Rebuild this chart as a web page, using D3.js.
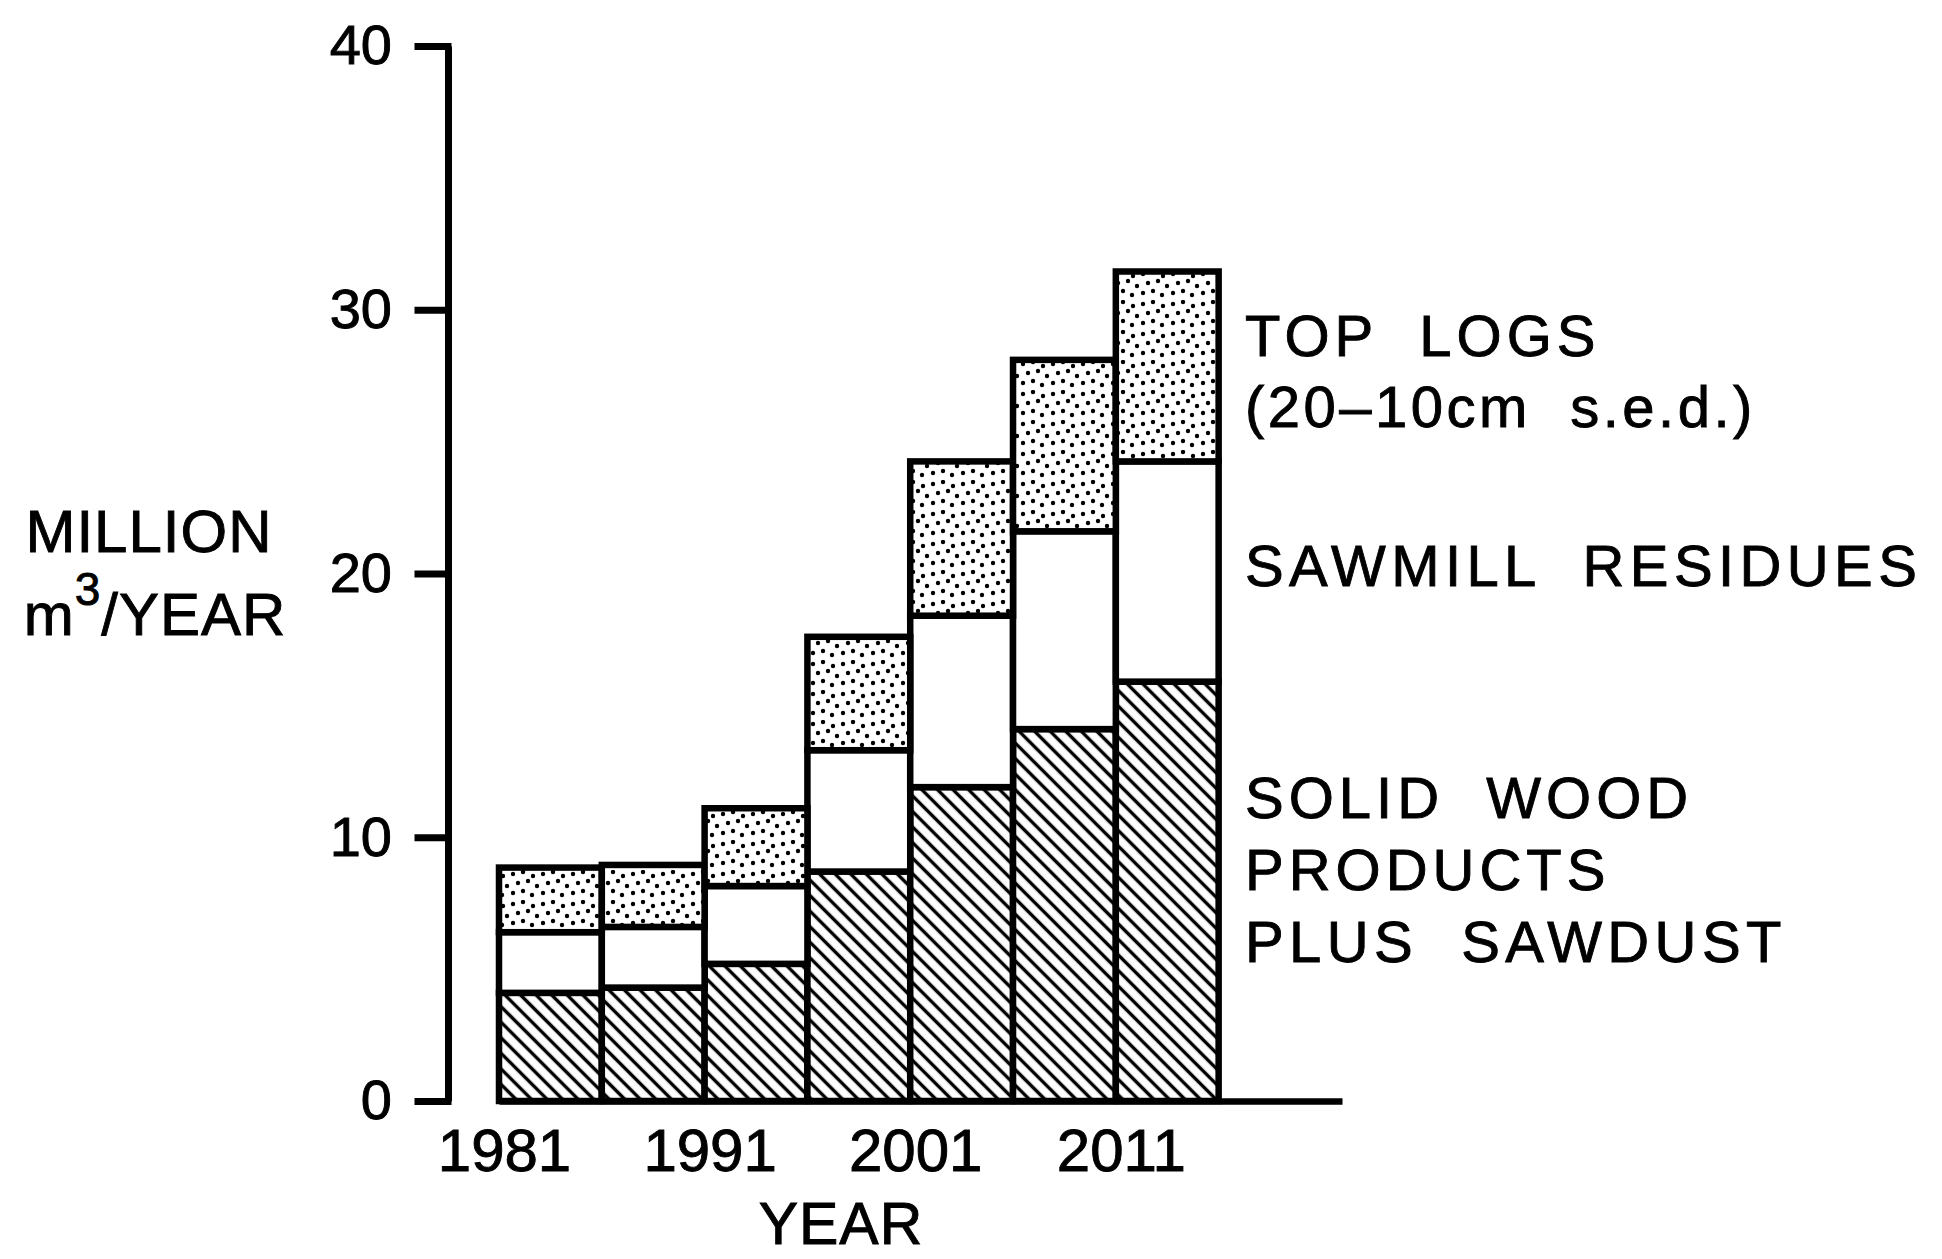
<!DOCTYPE html>
<html>
<head>
<meta charset="utf-8">
<script src="https://cdn.jsdelivr.net/npm/d3@7"></script>
<style>
  body { margin: 0; background: #fff; }
  svg { display: block; font-family: "Liberation Sans", Arial, sans-serif; }
  text { stroke: #000; stroke-width: 0.9px; fill: #000; }
</style>
</head>
<body>
<div id="chart"></div>
<script>
// five-year periods, start year of each bar
const periods = [1981, 1986, 1991, 1996, 2001, 2006, 2011];
// million m3 / year
const solidWood = [4.1, 4.3, 5.2, 8.7, 11.9, 14.1, 15.9];
const sawmillResidues = [2.3, 2.3, 2.95, 4.6, 6.5, 7.5, 8.35];
const topLogs = [2.45, 2.35, 2.95, 4.3, 5.85, 6.5, 7.2];
const yTicks = [0, 10, 20, 30, 40];
const yearTicks = [1981, 1991, 2001, 2011];
const seriesKeys = ["solid", "residues", "toplogs"];

let svgWidth = 1942;
let svgHeight = 1259;

let svg = d3.select("#chart")
  .append("svg")
  .attr("width", svgWidth)
  .attr("height", svgHeight);

svg.append("rect").attr("width", svgWidth).attr("height", svgHeight).attr("fill", "#fff");

// patterns
let defs = svg.append("defs");

let hatch = defs.append("pattern")
  .attr("id", "hatch")
  .attr("patternUnits", "userSpaceOnUse")
  .attr("width", 11)
  .attr("height", 11)
  .attr("patternTransform", "rotate(45)");
hatch.append("rect").attr("width", 11).attr("height", 11).attr("fill", "#fff");
hatch.append("line")
  .attr("x1", 0).attr("y1", 5.5).attr("x2", 11).attr("y2", 5.5)
  .attr("stroke", "#000").attr("stroke-width", 3.4);

let dots = defs.append("pattern")
  .attr("id", "dots")
  .attr("patternUnits", "userSpaceOnUse")
  .attr("width", 30)
  .attr("height", 30);
dots.append("rect").attr("width", 30).attr("height", 30).attr("fill", "#fff");
[[3, 4], [13, 2], [23, 6], [8, 13], [18, 11], [27, 16], [3, 23], [13, 21], [22, 25]]
  .forEach(p => dots.append("circle").attr("cx", p[0]).attr("cy", p[1]).attr("r", 2.2).attr("fill", "#000"));

let fills = { solid: "url(#hatch)", residues: "#fff", toplogs: "url(#dots)" };

// scales
let xScale = d3.scaleLinear().domain([1981, 2022]).range([499, 1342]);
let yScale = d3.scaleLinear().domain([0, 40]).range([1101, 46]);

// stacked data
let tableData = periods.map((p, i) => ({
  year: p,
  solid: solidWood[i],
  residues: sawmillResidues[i],
  toplogs: topLogs[i]
}));
let stacked = d3.stack().keys(seriesKeys)(tableData);

let barGroup = svg.append("g");
stacked.forEach(layer => {
  barGroup.selectAll(null)
    .data(layer)
    .enter()
    .append("rect")
    .attr("x", d => xScale(d.data.year))
    .attr("width", d => xScale(d.data.year + 5) - xScale(d.data.year))
    .attr("y", d => yScale(d[1]))
    .attr("height", d => yScale(d[0]) - yScale(d[1]))
    .attr("fill", fills[layer.key])
    .attr("stroke", "#000")
    .attr("stroke-width", 6.5);
});

// x axis (baseline only with year labels)
let xAxis = svg.append("g")
  .attr("transform", `translate(0, ${yScale(0)})`)
  .call(d3.axisBottom(xScale).tickValues(yearTicks).tickFormat(d3.format("d")).tickSize(0).tickSizeOuter(0).tickPadding(27));
xAxis.select(".domain").attr("stroke", "#000").attr("stroke-width", 6.5);
xAxis.selectAll("text").attr("font-size", 60).attr("dx", 5).attr("font-family", "Liberation Sans, Arial, sans-serif");

// y axis
let yAxis = svg.append("g")
  .attr("transform", `translate(448, 0)`)
  .call(d3.axisLeft(yScale).tickValues(yTicks).tickSize(30).tickSizeOuter(0).tickPadding(26));
yAxis.select(".domain").attr("stroke", "#000").attr("stroke-width", 7);
yAxis.selectAll(".tick line").attr("stroke", "#000").attr("stroke-width", 7).attr("stroke-linecap", "square");
yAxis.selectAll("text").attr("font-size", 56).attr("font-family", "Liberation Sans, Arial, sans-serif");

// axis titles
svg.append("text")
  .attr("x", 841).attr("y", 1244)
  .attr("text-anchor", "middle")
  .attr("font-size", 59)
  .attr("letter-spacing", 1)
  .text("YEAR");

svg.append("text")
  .attr("x", 149).attr("y", 552)
  .attr("text-anchor", "middle")
  .attr("font-size", 60)
  .attr("letter-spacing", 1)
  .text("MILLION");

let unitLabel = svg.append("text")
  .attr("x", 155).attr("y", 635)
  .attr("text-anchor", "middle")
  .attr("font-size", 60)
  .attr("letter-spacing", 1);
unitLabel.append("tspan").text("m");
unitLabel.append("tspan").attr("font-size", 46).attr("dy", -30).text("3");
unitLabel.append("tspan").attr("dy", 30).text("/YEAR");

// series labels on the right
let labelLines = [
  { text: "TOP  LOGS", y: 356, ls: 5 },
  { text: "(20\u201310cm  s.e.d.)", y: 427, ls: 3.5 },
  { text: "SAWMILL  RESIDUES", y: 586, ls: 5.4 },
  { text: "SOLID  WOOD", y: 818, ls: 5 },
  { text: "PRODUCTS", y: 890, ls: 5 },
  { text: "PLUS  SAWDUST", y: 962, ls: 5.4 }
];
svg.append("g").selectAll("text")
  .data(labelLines)
  .enter()
  .append("text")
  .attr("x", 1245)
  .attr("y", d => d.y)
  .attr("font-size", 58)
  .attr("letter-spacing", d => d.ls)
  .style("white-space", "pre")
  .text(d => d.text);
</script>
</body>
</html>
